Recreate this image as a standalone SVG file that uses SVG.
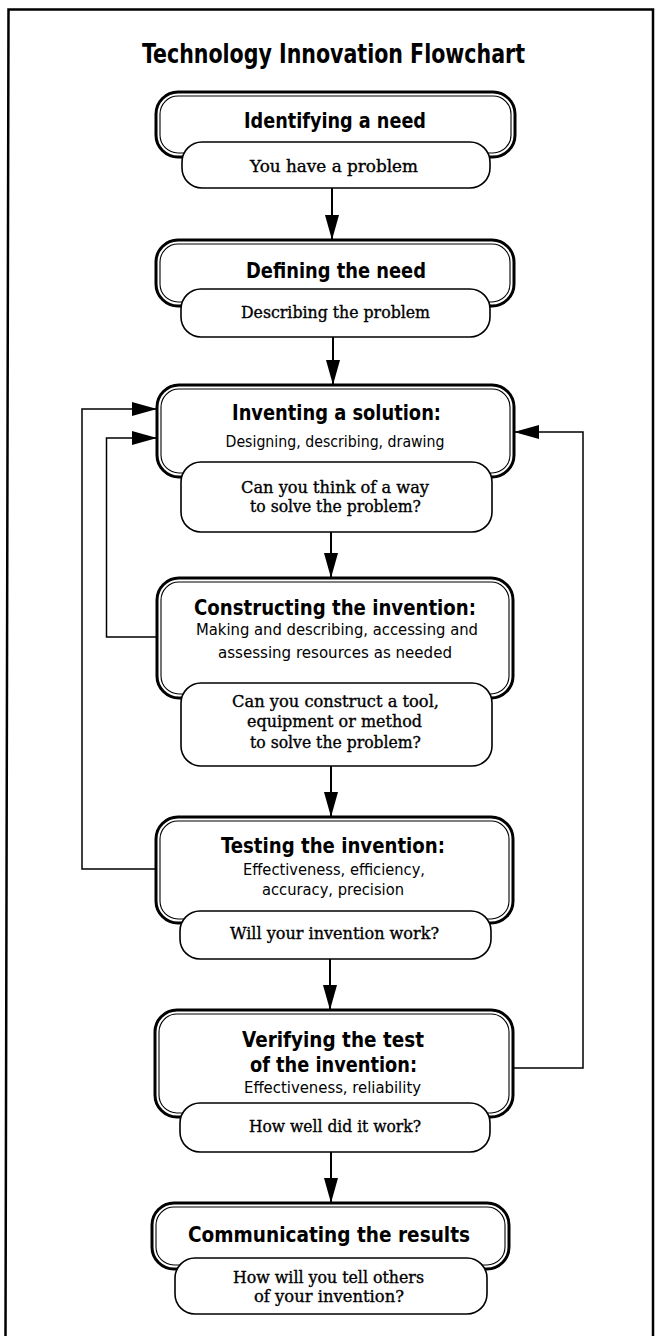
<svg xmlns="http://www.w3.org/2000/svg" width="655" height="1336" viewBox="0 0 655 1336">
<defs>
<style>
.frame{fill:none;stroke:#000;stroke-width:2.5}
.outer{fill:#fff;stroke:#000;stroke-width:3}
.inner{fill:none;stroke:#000;stroke-width:1.1}
.pill{fill:#fff;stroke:#000;stroke-width:1.6}
.title{font-family:"DejaVu Sans Condensed","DejaVu Sans",sans-serif;font-weight:bold;font-size:27px;text-anchor:middle;fill:#000}
.head{font-family:"DejaVu Sans Condensed","DejaVu Sans",sans-serif;font-weight:bold;font-size:22px;text-anchor:middle;fill:#000}
.sub{font-family:"DejaVu Sans Condensed","DejaVu Sans",sans-serif;font-size:15px;text-anchor:middle;fill:#000}
.body{font-family:"DejaVu Serif","Liberation Serif",serif;font-size:16px;text-anchor:middle;fill:#000;stroke:#000;stroke-width:0.35}
.arrow{fill:none;stroke:#000;stroke-width:2;marker-end:url(#ah)}
.loop{fill:none;stroke:#000;stroke-width:1.5;marker-end:url(#ah)}
</style>
<marker id="ah" markerUnits="userSpaceOnUse" markerWidth="26" markerHeight="15" refX="25" refY="7" orient="auto">
<path d="M0,0 L25,7 L0,14 Z" fill="#000"/>
</marker>
</defs>
<rect width="655" height="1336" fill="#fff"/>
<path class="frame" d="M5.5,1336 L8.5,9.5 L653,9.5 L653,1336"/>
<text class="title" x="333.5" y="63" textLength="383" lengthAdjust="spacingAndGlyphs">Technology Innovation Flowchart</text>

<g id="node1">
<rect class="outer" x="156" y="92" width="359" height="65" rx="22"/>
<rect class="inner" x="160" y="96" width="351" height="57" rx="18"/>
<rect class="pill" x="182" y="142" width="308" height="46" rx="20"/>
<text class="head" x="335" y="128" textLength="182" lengthAdjust="spacingAndGlyphs">Identifying a need</text>
<text class="body" x="334" y="172" textLength="168" lengthAdjust="spacingAndGlyphs">You have a problem</text>
</g>

<g id="node2">
<rect class="outer" x="156" y="240" width="358" height="66" rx="22"/>
<rect class="inner" x="160" y="244" width="350" height="58" rx="18"/>
<rect class="pill" x="181" y="289" width="309" height="48" rx="20"/>
<text class="head" x="336" y="278" textLength="180" lengthAdjust="spacingAndGlyphs">Defining the need</text>
<text class="body" x="335.5" y="318" textLength="189" lengthAdjust="spacingAndGlyphs">Describing the problem</text>
</g>

<g id="node3">
<rect class="outer" x="157" y="385" width="357" height="92" rx="22"/>
<rect class="inner" x="161" y="389" width="349" height="84" rx="18"/>
<rect class="pill" x="181" y="462" width="311" height="70" rx="20"/>
<text class="head" x="336.5" y="420" textLength="209" lengthAdjust="spacingAndGlyphs">Inventing a solution:</text>
<text class="sub" x="335" y="447" textLength="219" lengthAdjust="spacingAndGlyphs">Designing, describing, drawing</text>
<text class="body" x="335" y="493" textLength="188" lengthAdjust="spacingAndGlyphs">Can you think of a way</text>
<text class="body" x="335.5" y="512" textLength="171" lengthAdjust="spacingAndGlyphs">to solve the problem?</text>
</g>

<g id="node4">
<rect class="outer" x="157" y="578" width="356" height="120" rx="22"/>
<rect class="inner" x="161" y="582" width="348" height="112" rx="18"/>
<rect class="pill" x="181" y="683" width="311" height="83" rx="20"/>
<text class="head" x="335" y="615" textLength="282" lengthAdjust="spacingAndGlyphs">Constructing the invention:</text>
<text class="sub" x="337" y="635" textLength="282" lengthAdjust="spacingAndGlyphs">Making and describing, accessing and</text>
<text class="sub" x="335" y="658" textLength="234" lengthAdjust="spacingAndGlyphs">assessing resources as needed</text>
<text class="body" x="335.5" y="707" textLength="207" lengthAdjust="spacingAndGlyphs">Can you construct a tool,</text>
<text class="body" x="334.5" y="727" textLength="175" lengthAdjust="spacingAndGlyphs">equipment or method</text>
<text class="body" x="335.5" y="748" textLength="171" lengthAdjust="spacingAndGlyphs">to solve the problem?</text>
</g>

<g id="node5">
<rect class="outer" x="156" y="817" width="357" height="106" rx="22"/>
<rect class="inner" x="160" y="821" width="349" height="98" rx="18"/>
<rect class="pill" x="180" y="911" width="311" height="48" rx="20"/>
<text class="head" x="333" y="853" textLength="224" lengthAdjust="spacingAndGlyphs">Testing the invention:</text>
<text class="sub" x="334" y="875" textLength="182" lengthAdjust="spacingAndGlyphs">Effectiveness, efficiency,</text>
<text class="sub" x="333" y="895" textLength="142" lengthAdjust="spacingAndGlyphs">accuracy, precision</text>
<text class="body" x="334.5" y="939" textLength="209" lengthAdjust="spacingAndGlyphs">Will your invention work?</text>
</g>

<g id="node6">
<rect class="outer" x="155" y="1010" width="358" height="107" rx="22"/>
<rect class="inner" x="159" y="1014" width="350" height="99" rx="18"/>
<rect class="pill" x="180" y="1103" width="310" height="49" rx="20"/>
<text class="head" x="333" y="1047" textLength="182" lengthAdjust="spacingAndGlyphs">Verifying the test</text>
<text class="head" x="333.5" y="1072" textLength="167" lengthAdjust="spacingAndGlyphs">of the invention:</text>
<text class="sub" x="332.5" y="1093" textLength="177" lengthAdjust="spacingAndGlyphs">Effectiveness, reliability</text>
<text class="body" x="335" y="1132" textLength="172" lengthAdjust="spacingAndGlyphs">How well did it work?</text>
</g>

<g id="node7">
<rect class="outer" x="152" y="1203" width="357" height="66" rx="22"/>
<rect class="inner" x="156" y="1207" width="349" height="58" rx="18"/>
<rect class="pill" x="175" y="1258" width="312" height="56" rx="20"/>
<text class="head" x="329" y="1242" textLength="282" lengthAdjust="spacingAndGlyphs">Communicating the results</text>
<text class="body" x="328.5" y="1283" textLength="191" lengthAdjust="spacingAndGlyphs">How will you tell others</text>
<text class="body" x="329" y="1302" textLength="150" lengthAdjust="spacingAndGlyphs">of your invention?</text>
</g>

<g id="connectors">
<path class="arrow" d="M332,188 V240"/>
<path class="arrow" d="M333,337 V385"/>
<path class="arrow" d="M331,532 V578"/>
<path class="arrow" d="M331,766 V817"/>
<path class="arrow" d="M330,959 V1010"/>
<path class="arrow" d="M331,1152 V1203"/>
<path class="loop" d="M156,869 H82 V409 H157"/>
<path class="loop" d="M157,637 H106.5 V438 H157"/>
<path class="loop" d="M513,1068 H583 V432 H514"/>
</g>
</svg>
